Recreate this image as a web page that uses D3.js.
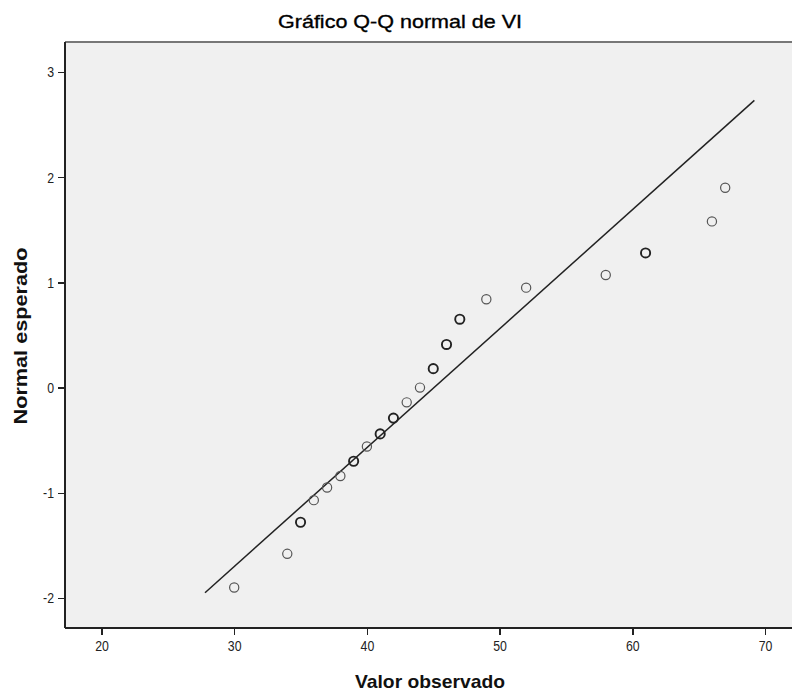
<!DOCTYPE html>
<html lang="es">
  <head>
    <meta charset="UTF-8" />
    <title>Gráfico Q-Q normal de VI</title>
    <script src="https://d3js.org/d3.v7.min.js"></script>
    <style>
      body {
        margin: 0;
        background: #fff;
      }
      svg text {
        font-family: "Liberation Sans", Arial, sans-serif;
        fill: #111;
      }
      .tick text {
        font-size: 15px;
        fill: #222;
      }
      .axis path,
      .axis line {
        stroke: #222;
        stroke-width: 1.5;
        shape-rendering: crispEdges;
      }
    </style>
  </head>
  <body>
    <div id="chart"></div>
    <script>
      // valores
      const observado = [30, 34, 35, 36, 37, 38, 39, 40, 41, 42, 43, 44, 45, 46, 47, 49, 52, 58, 61, 66, 67];
      const esperado = [-1.9, -1.58, -1.28, -1.07, -0.95, -0.84, -0.7, -0.56, -0.44, -0.29, -0.14, 0.0, 0.18, 0.41, 0.65, 0.84, 0.95, 1.07, 1.28, 1.58, 1.9];
      const empates = [1, 1, 2, 1, 1, 1, 2, 1, 2, 2, 1, 1, 2, 2, 2, 1, 1, 1, 2, 1, 1];
      const lineaX = [27.8, 69.2];
      const lineaY = [-1.95, 2.73];
      const xTicks = [20, 30, 40, 50, 60, 70];
      const yTicks = [-2, -1, 0, 1, 2, 3];

      const width = 792;
      const height = 691;
      const margin = { top: 42, right: -6, bottom: 63, left: 65 };

      const svg = d3.select("#chart").append("svg").attr("width", width).attr("height", height);

      const x = d3
        .scaleLinear()
        .domain([20, 70])
        .range([101.5, 765]);
      const y = d3
        .scaleLinear()
        .domain([-2, 3])
        .range([598, 72]);

      const plotRight = width - margin.right;
      const plotBottom = height - margin.bottom;

      // texto estrecho, como en la imagen original
      function estrechar(sel, f) {
        sel.each(function () {
          const len = this.getComputedTextLength();
          d3.select(this).attr("textLength", len * f).attr("lengthAdjust", "spacingAndGlyphs");
        });
      }

      // fondo del area de trazado
      svg
        .append("rect")
        .attr("x", margin.left)
        .attr("y", margin.top)
        .attr("width", plotRight - margin.left)
        .attr("height", plotBottom - margin.top)
        .attr("fill", "#f0f0f0");

      svg
        .append("line")
        .attr("x1", margin.left)
        .attr("x2", plotRight)
        .attr("y1", margin.top)
        .attr("y2", margin.top)
        .attr("stroke", "#777")
        .attr("stroke-width", 2);

      // ejes
      svg
        .append("g")
        .attr("class", "axis")
        .attr("transform", `translate(0, ${plotBottom})`)
        .call(d3.axisBottom(x).tickValues(xTicks).tickFormat((d) => String(d)).tickSize(7).tickPadding(5).tickSizeOuter(0))
        .call((g) => g.select(".domain").attr("d", `M${margin.left},0H${plotRight}`))
        .call((g) => estrechar(g.selectAll(".tick text"), 0.82));

      svg
        .append("g")
        .attr("class", "axis")
        .attr("transform", `translate(${margin.left}, 0)`)
        .call(d3.axisLeft(y).tickValues(yTicks).tickFormat((d) => String(d)).tickSize(7).tickPadding(4).tickSizeOuter(0))
        .call((g) => g.select(".domain").attr("d", `M0,${margin.top}V${plotBottom}`))
        .call((g) => estrechar(g.selectAll(".tick text"), 0.82));

      // linea de referencia
      svg
        .append("line")
        .attr("x1", x(lineaX[0]))
        .attr("y1", y(lineaY[0]))
        .attr("x2", x(lineaX[1]))
        .attr("y2", y(lineaY[1]))
        .attr("stroke", "#222")
        .attr("stroke-width", 1.5);

      // puntos (los empates se dibujan mas gruesos)
      const puntos = observado.map((v, i) => ({ v, e: esperado[i], n: empates[i] }));
      svg
        .selectAll(".punto")
        .data(puntos)
        .enter()
        .append("circle")
        .attr("class", "punto")
        .attr("cx", (d) => x(d.v))
        .attr("cy", (d) => y(d.e))
        .attr("r", 4.6)
        .attr("fill", "none")
        .attr("stroke", (d) => (d.n > 1 ? "#222" : "#555"))
        .attr("stroke-width", (d) => (d.n > 1 ? 1.9 : 1.2));

      // titulos
      svg
        .append("text")
        .attr("x", 400)
        .attr("y", 28)
        .attr("text-anchor", "middle")
        .style("font-size", "19px")
        .style("fill", "#000")
        .style("stroke", "#000")
        .style("stroke-width", 0.35)
        .attr("textLength", 244)
        .attr("lengthAdjust", "spacingAndGlyphs")
        .text("Gráfico Q-Q normal de VI");

      svg
        .append("text")
        .attr("x", 430)
        .attr("y", 688)
        .attr("text-anchor", "middle")
        .style("font-size", "19px")
        .style("font-weight", "bold")
        .attr("textLength", 150)
        .attr("lengthAdjust", "spacingAndGlyphs")
        .text("Valor observado");

      svg
        .append("text")
        .attr("transform", `translate(27, 336) rotate(-90)`)
        .attr("text-anchor", "middle")
        .style("font-size", "19px")
        .style("font-weight", "bold")
        .attr("textLength", 177)
        .attr("lengthAdjust", "spacingAndGlyphs")
        .text("Normal esperado");
    </script>
  </body>
</html>
